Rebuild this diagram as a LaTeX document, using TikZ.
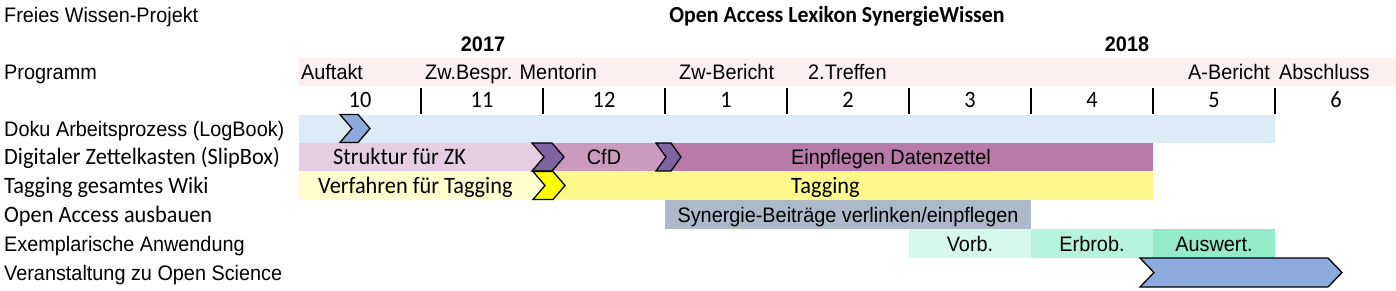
\documentclass[tikz,border=0pt]{standalone}
\usepackage{fontspec}
\setmainfont{Liberation Sans}[FakeStretch=0.945]
\newfontfamily\calibri{Carlito}[FakeStretch=0.95]
\definecolor{progpink}{HTML}{FDEFEF}
\definecolor{dokublue}{HTML}{DDEBF7}
\definecolor{chevblue}{HTML}{8EA9DB}
\definecolor{zkA}{HTML}{E6CDE2}
\definecolor{zkB}{HTML}{CA9BBF}
\definecolor{zkC}{HTML}{B87AA9}
\definecolor{chevpurple}{HTML}{8064A2}
\definecolor{tagA}{HTML}{FFFDCC}
\definecolor{tagB}{HTML}{FFF88C}
\definecolor{chevyellow}{HTML}{FFFF00}
\definecolor{oagray}{HTML}{ADB9CA}
\definecolor{exA}{HTML}{D6F7EB}
\definecolor{exB}{HTML}{B5F3DD}
\definecolor{exC}{HTML}{94EBCA}
\newcommand\chev[6]{% x y w h d colour
  \filldraw[chevline,fill=#6] (#1,#2) -- ({#1+#3-#5},#2) -- ({#1+#3},{#2+#4/2})
    -- ({#1+#3-#5},{#2+#4}) -- (#1,{#2+#4}) -- ({#1+#5},{#2+#4/2}) -- cycle;}
\begin{document}
\begin{tikzpicture}[x=1pt,y=-1pt,
  ar/.style={inner sep=0pt,font=\fontsize{21}{23}\selectfont},
  arb/.style={inner sep=0pt,font=\bfseries\fontsize{21}{23}\selectfont},
  ca/.style={inner sep=0pt,font=\calibri\fontsize{23.5}{25}\selectfont},
  cab/.style={inner sep=0pt,font=\calibri\bfseries\fontsize{23}{25}\selectfont},
  lbl/.style={anchor=base west},
  ctr/.style={anchor=base},
  tick/.style={line width=1.8pt},
  chevline/.style={draw=black,line width=1.3pt,line join=miter}]
\useasboundingbox (0,0) rectangle (1396,290);
% bands and bars
\fill[progpink] (299,58) rectangle (1396,86);
\fill[dokublue] (299,115) rectangle (1275,143);
\fill[zkA] (299,143) rectangle (543,171);
\fill[zkB] (543,143) rectangle (665,171);
\fill[zkC] (665,143) rectangle (1153,171);
\fill[tagA] (299,171) rectangle (543,200);
\fill[tagB] (543,171) rectangle (1153,200);
\fill[oagray] (665,200) rectangle (1031,229);
\fill[exA] (909,229) rectangle (1031,258);
\fill[exB] (1031,229) rectangle (1153,258);
\fill[exC] (1153,229) rectangle (1275,258);
% ticks
\foreach \t in {421,543,665,787,909,1031,1153,1275}
  \draw[tick] (\t,88) -- (\t,114);
% chevrons
\chev{340}{114.5}{30}{28}{12}{chevblue}
\chev{532}{143}{32}{28}{12}{chevpurple}
\chev{656}{143}{25}{28}{10}{chevpurple}
\chev{533}{171.5}{32}{28}{12}{chevyellow}
\chev{1140}{258}{202}{29}{14}{chevblue}
% header texts
\node[ar,lbl] (proj) at (4,22.5) {Freies Wissen-Projekt};
\node[cab,ctr] (title) at (837,22.5) {Open Access Lexikon SynergieWissen};
\node[arb,ctr] (y17) at (483,51.5) {2017};
\node[arb,ctr] (y18) at (1127,51.5) {2018};
\node[ar,lbl] (prog) at (4,79.5) {Programm};
\node[ar,lbl] (auf) at (301,79.5) {Auftakt};
\node[ar,lbl] (zwb) at (425,79.5) {Zw.Bespr. Mentorin};
\node[ar,lbl] (zwber) at (679,79.5) {Zw-Bericht};
\node[ar,lbl] (tref) at (808,79.5) {2.Treffen};
\node[ar,lbl] (aber) at (1188,79.5) {A-Bericht};
\node[ar,lbl] (absch) at (1279,79.5) {Abschluss};
% month numbers
\foreach \m/\c in {10/360,11/482,12/604,1/726,2/848,3/970,4/1092,5/1214,6/1336}
  \node[ca,ctr] (m\m) at (\c,107.5) {\m};
% row labels
\node[ar,lbl] (r1) at (4,136.5) {Doku Arbeitsprozess (LogBook)};
\node[ca,lbl] (r2) at (4,164.5) {Digitaler Zettelkasten (SlipBox)};
\node[ca,lbl] (r3) at (4,193) {Tagging gesamtes Wiki};
\node[ca,lbl] (r4) at (4,222) {Open Access ausbauen};
\node[ar,lbl] (r5) at (4,251) {Exemplarische Anwendung};
\node[ar,lbl] (r6) at (4,280) {Veranstaltung zu Open Science};
% bar texts
\node[ca,lbl] (struk) at (333,164.5) {Struktur für ZK};
\node[ar,ctr] (cfd) at (604,164.5) {CfD};
\node[ar,lbl] (einpf) at (791,164.5) {Einpflegen Datenzettel};
\node[ca,lbl] (verf) at (318,193) {Verfahren für Tagging};
\node[ca,lbl] (tag) at (791,193) {Tagging};
\node[ar,ctr] (syn) at (848,222) {Synergie-Beiträge verlinken/einpflegen};
\node[ar,ctr] (vorb) at (970,251) {Vorb.};
\node[ar,ctr] (erb) at (1092,251) {Erbrob.};
\node[ar,ctr] (ausw) at (1214,251) {Auswert.};
\end{tikzpicture}
\end{document}
